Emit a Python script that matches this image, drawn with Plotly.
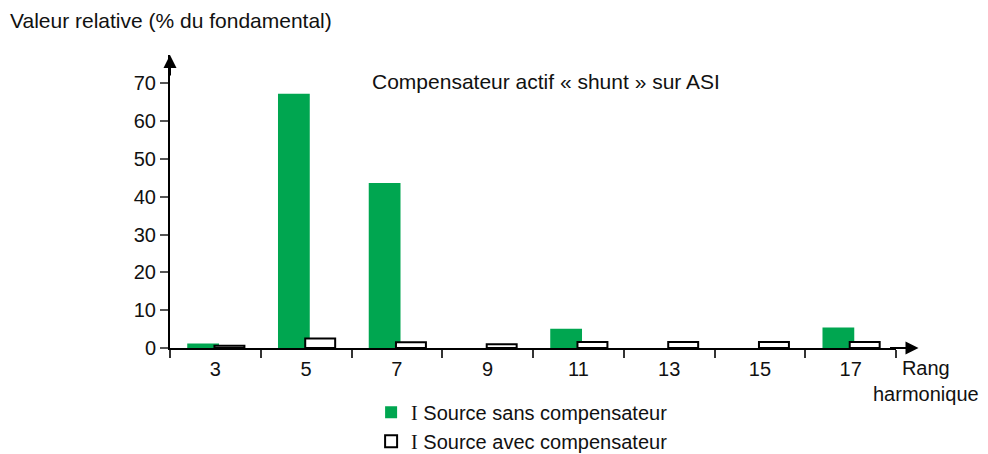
import plotly.graph_objects as go

categories = ["3", "5", "7", "9", "11", "13", "15", "17"]
sans_comp = [1.2, 67.2, 43.6, 0, 5.1, 0, 0, 5.4]
avec_comp = [0.6, 2.5, 1.5, 1.0, 1.6, 1.6, 1.6, 1.6]
y_ticks = [0, 10, 20, 30, 40, 50, 60, 70]

pos = list(range(len(categories)))
bounds = [p - 0.5 for p in pos] + [len(pos) - 0.5]

FONT = "Liberation Sans, Arial, sans-serif"
SERIF = "Liberation Serif, Times New Roman, serif"
GREEN = "#00a650"

fig = go.Figure()
fig.add_trace(go.Bar(
    x=pos, y=sans_comp, width=0.35, offset=-0.31,
    marker=dict(color=GREEN, line=dict(width=0)),
    name=f"<span style='font-family:{SERIF}'>I</span> Source sans compensateur",
))
fig.add_trace(go.Bar(
    x=pos, y=avec_comp, width=0.33, offset=-0.01,
    marker=dict(color="white", line=dict(color="black", width=2)),
    name=f"<span style='font-family:{SERIF}'>I</span> Source avec compensateur",
))

# page body has an 8px margin: the figure is placed at (8, 8)
fig.update_layout(
    width=980, height=446,
    margin=dict(l=162, r=92, t=47, b=105.5, autoexpand=False),
    paper_bgcolor="white", plot_bgcolor="white",
    barmode="overlay",
    font=dict(family=FONT, size=20, color="#111"),
    showlegend=True,
    legend=dict(x=0.277, y=-0.1525, xanchor="left", yanchor="top",
                font=dict(size=20), itemwidth=30, tracegroupgap=0,
                bgcolor="rgba(0,0,0,0)"),
    xaxis=dict(
        range=[-0.5, len(pos) - 0.5], tickvals=pos, ticktext=categories,
        ticks="outside", ticklen=2, tickcolor="rgba(0,0,0,0)",
        showline=True, linecolor="black", linewidth=2,
        showgrid=False, zeroline=False,
        minor=dict(tickvals=bounds, ticks="outside", ticklen=8, tickcolor="#333", tickwidth=1.5),
        tickfont=dict(size=20),
    ),
    yaxis=dict(
        range=[0, 77.46], tickvals=y_ticks,
        ticks="outside", ticklen=8, tickcolor="#555", tickwidth=1.5,
        showline=True, linecolor="black", linewidth=2,
        showgrid=False, zeroline=False, tickfont=dict(size=20),
    ),
    annotations=[
        dict(xref="paper", yref="paper", x=0, y=1, ax=0, ay=22, text="",
             showarrow=True, arrowhead=2, arrowsize=1.3, arrowwidth=2, arrowcolor="black"),
        dict(xref="paper", yref="paper", x=1.031, y=0, ax=-30, ay=0, text="",
             showarrow=True, arrowhead=2, arrowsize=1.3, arrowwidth=2, arrowcolor="black"),
        dict(xref="paper", yref="paper", x=-0.2231, y=1.119, xanchor="left", yanchor="middle",
             text="Valeur relative (% du fondamental)", showarrow=False, font=dict(size=21)),
        dict(xref="paper", yref="paper", x=0.2755, y=0.908, xanchor="left", yanchor="middle",
             text="Compensateur actif « shunt » sur ASI", showarrow=False, font=dict(size=21)),
        dict(xref="paper", yref="paper", x=1.041, y=-0.025, xanchor="center", yanchor="top",
             text="Rang<br>harmonique", showarrow=False, align="center", font=dict(size=20)),
    ],
)

fig.write_html("out.html")
